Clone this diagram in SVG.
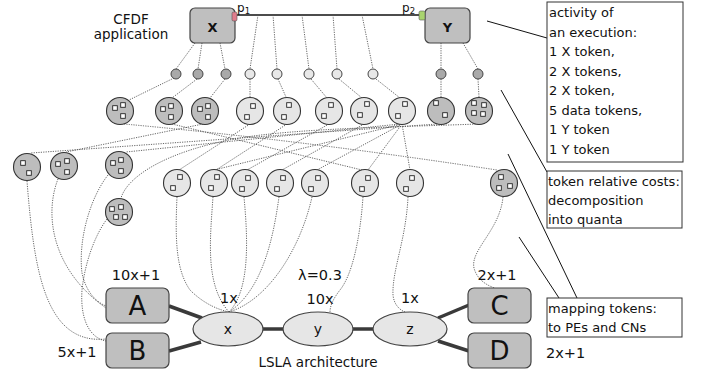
<svg xmlns="http://www.w3.org/2000/svg" width="702" height="372" viewBox="0 0 702 372">
<defs>
<style>
text{font-family:"DejaVu Sans","Liberation Sans",sans-serif;fill:#111}
.node{fill:#bfbfbf;stroke:#444;stroke-width:1.2}
.dk{fill:#bdbdbd;stroke:#333;stroke-width:1.1}
.lt{fill:#e6e6e6;stroke:#333;stroke-width:1.1}
.sdk{fill:#a9a9a9;stroke:#444;stroke-width:1}
.slt{fill:#e8e8e8;stroke:#444;stroke-width:1}
.sq{fill:#fff;stroke:#222;stroke-width:0.9}
.dot{fill:none;stroke:#555;stroke-width:0.9;stroke-dasharray:1.2 1.2}
.thick{stroke:#3a3a3a;stroke-width:3.5}
.call{stroke:#111;stroke-width:1}
.box{fill:#fff;stroke:#333;stroke-width:1}
.t13{font-size:13px}
.lab{font-size:14.5px}
.big{font-size:26px;text-anchor:middle}
.mid{text-anchor:middle}
.ell{fill:#e6e6e6;stroke:#444;stroke-width:1.2}
</style>
<rect id="q" class="sq" x="-2.3" y="-2.3" width="4.6" height="4.6"/>
</defs>
<rect width="702" height="372" fill="#fff"/>

<g id="connectors">
<line x1="237" y1="15" x2="419" y2="15" stroke="#111" stroke-width="1.4"/>
<g class="dot">
<path d="M195,43 L176,69"/><path d="M202,43 L198,69"/><path d="M220,43 L225,69"/>
<path d="M258,15 L250,69"/><path d="M273,15 L277,69"/><path d="M302,15 L309,69"/>
<path d="M333,15 L337,69"/><path d="M362,15 L373,69"/>
<path d="M441,43 L441,69"/><path d="M463,43 L478,69"/>
<path d="M174,78 L129,100"/><path d="M197,79 L172,98"/><path d="M225,79 L210,98"/>
<path d="M250,79 L250,97"/><path d="M278,79 L286,97"/><path d="M311,79 L327,98"/>
<path d="M339,79 L362,98"/><path d="M376,79 L400,98"/><path d="M441,79 L441,97"/>
<path d="M478,79 L479,97"/>
<path d="M124,124 Q300,140 497,170"/>
<path d="M478,124 C400,127 300,128 240,138 C170,150 128,175 121,198"/>
<path d="M203,124 L66,152"/>
<path d="M437,124 L31,153"/>
<path d="M400,124 L126,152"/>
<path d="M172,124 L362,170"/>
<path d="M250,124 L179,170"/>
<path d="M287,124 L216,170"/>
<path d="M329,124 L247,170"/>
<path d="M364,124 L282,170"/>
<path d="M402,124 L317,170"/>
<path d="M402,124 L368,170"/>
<path d="M402,124 L410,170"/>
<path d="M402,124 L214,170"/>
<path d="M27,181 C34,270 45,345 106,339"/>
<path d="M58,179 C44,215 52,270 106,308"/>
<path d="M108,175 C90,198 78,240 82,273 C86,292 96,302 106,306"/>
<path d="M107,219 C95,235 85,262 82,290 C80,320 90,338 106,341"/>
<path d="M177,197 C175,240 176,270 190,290 C205,305 220,310 229,312"/>
<path d="M213,197 C210,240 205,285 229,312"/>
<path d="M244,197 C248,240 250,290 229,312"/>
<path d="M279,197 C273,240 262,290 229,312"/>
<path d="M312,197 C300,250 268,300 229,312"/>
<path d="M363,197 C360,240 352,275 340,290 C333,299 330,306 330,312"/>
<path d="M408,197 C406,240 392,270 393,295 C394,305 400,310 405,312"/>
<path d="M503,197 C500,230 470,250 474,268 C477,280 488,286 495,288"/>
</g>
<g class="thick">
<line x1="169" y1="306" x2="202" y2="318"/>
<line x1="169" y1="351" x2="201" y2="342"/>
<line x1="262" y1="329" x2="284" y2="329"/>
<line x1="352" y1="329" x2="374" y2="329"/>
<line x1="438" y1="318" x2="469" y2="305"/>
<line x1="438" y1="341" x2="469" y2="351"/>
</g>
<g class="call">
<line x1="487" y1="21" x2="547" y2="38"/>
<line x1="501" y1="90" x2="547" y2="172"/>
<line x1="508" y1="154" x2="577" y2="298"/>
<line x1="519" y1="237" x2="559" y2="298"/>
</g>
</g>

<g id="app-label">
<text x="131" y="24" class="mid" font-size="13.5">CFDF</text>
<text x="131" y="39" class="mid" font-size="13.5">application</text>
</g>
<g id="node-X">
<rect class="node" x="190" y="8" width="45" height="35" rx="5"/>
<text x="212.5" y="32" class="mid" font-size="13" font-weight="bold">X</text>
<rect x="232" y="12" width="5" height="9" rx="1.5" fill="#e07d8c" stroke="#555" stroke-width="0.6"/>
<text x="237" y="11.5" font-size="12">p<tspan font-size="8.5" dy="2">1</tspan></text>
</g>
<g id="node-Y">
<rect class="node" x="425" y="8" width="45" height="35" rx="5"/>
<text x="447.5" y="32" class="mid" font-size="13" font-weight="bold">Y</text>
<rect x="419" y="11" width="6" height="9" rx="1.5" fill="#a9d46e" stroke="#555" stroke-width="0.6"/>
<text x="402" y="11.5" font-size="12">p<tspan font-size="8.5" dy="2">2</tspan></text>
</g>

<g id="tokens">
<circle class="sdk" cx="176" cy="74" r="5"/><circle class="sdk" cx="198" cy="74" r="5"/><circle class="sdk" cx="226" cy="74" r="5"/>
<circle class="slt" cx="250" cy="74" r="5"/><circle class="slt" cx="277" cy="74" r="5"/><circle class="slt" cx="309" cy="74" r="5"/>
<circle class="slt" cx="337" cy="74" r="5"/><circle class="slt" cx="373" cy="74" r="5"/>
<circle class="sdk" cx="441" cy="74" r="5"/><circle class="sdk" cx="478" cy="74" r="5"/>
</g>

<g id="quanta">
<circle class="dk" cx="120" cy="111" r="13.5"/><use href="#q" x="115" y="108"/><use href="#q" x="123" y="105"/><use href="#q" x="123" y="116"/>
<circle class="dk" cx="169" cy="111" r="13.5"/><use href="#q" x="163" y="109"/><use href="#q" x="171" y="106"/><use href="#q" x="171" y="117"/>
<circle class="dk" cx="205" cy="111" r="13.5"/><use href="#q" x="200" y="109"/><use href="#q" x="208" y="106"/><use href="#q" x="208" y="117"/>
<circle class="lt" cx="250" cy="111" r="13.5"/><use href="#q" x="253" y="106"/><use href="#q" x="247" y="117"/>
<circle class="lt" cx="287" cy="111" r="13.5"/><use href="#q" x="289" y="105"/><use href="#q" x="284" y="117"/>
<circle class="lt" cx="329" cy="111" r="13.5"/><use href="#q" x="331" y="105"/><use href="#q" x="324" y="116"/>
<circle class="lt" cx="364" cy="111" r="13.5"/><use href="#q" x="367" y="104"/><use href="#q" x="360" y="115"/>
<circle class="lt" cx="402" cy="111" r="13.5"/><use href="#q" x="405" y="104"/><use href="#q" x="398" y="116"/>
<circle class="dk" cx="441" cy="111" r="13.5"/><use href="#q" x="436" y="103"/><use href="#q" x="445" y="115"/>
<circle class="dk" cx="479" cy="111" r="13.5"/><use href="#q" x="474" y="103"/><use href="#q" x="484" y="105"/><use href="#q" x="474" y="113"/><use href="#q" x="483" y="114"/>
</g>

<g id="mapped">
<circle class="dk" cx="27" cy="167" r="13.5"/><use href="#q" x="23" y="163"/><use href="#q" x="29" y="173"/>
<circle class="dk" cx="64" cy="166" r="13.5"/><use href="#q" x="58" y="164"/><use href="#q" x="67" y="161"/><use href="#q" x="67" y="172"/>
<circle class="dk" cx="119" cy="165" r="13.5"/><use href="#q" x="113" y="163"/><use href="#q" x="121" y="160"/><use href="#q" x="121" y="171"/>
<circle class="dk" cx="119" cy="212" r="13.5"/><use href="#q" x="112" y="209"/><use href="#q" x="121" y="207"/><use href="#q" x="116" y="217"/><use href="#q" x="125" y="217"/>
<circle class="lt" cx="177" cy="183" r="13.5"/><use href="#q" x="180" y="177"/><use href="#q" x="173" y="188"/>
<circle class="lt" cx="214" cy="183" r="13.5"/><use href="#q" x="217" y="177"/><use href="#q" x="211" y="188"/>
<circle class="lt" cx="245" cy="183" r="13.5"/><use href="#q" x="248" y="178"/><use href="#q" x="242" y="189"/>
<circle class="lt" cx="280" cy="183" r="13.5"/><use href="#q" x="283" y="178"/><use href="#q" x="277" y="189"/>
<circle class="lt" cx="315" cy="183" r="13.5"/><use href="#q" x="318" y="178"/><use href="#q" x="311" y="189"/>
<circle class="lt" cx="365" cy="183" r="13.5"/><use href="#q" x="368" y="178"/><use href="#q" x="362" y="189"/>
<circle class="lt" cx="410" cy="183" r="13.5"/><use href="#q" x="412" y="178"/><use href="#q" x="406" y="189"/>
<circle class="dk" cx="504" cy="183" r="13.5"/><use href="#q" x="501" y="177"/><use href="#q" x="499" y="188"/><use href="#q" x="510" y="186"/>
</g>

<g id="node-A"><rect class="node" x="106" y="288" width="63" height="35" rx="6"/><text x="137.5" y="315" class="big">A</text></g>
<g id="node-B"><rect class="node" x="106" y="333" width="63" height="35" rx="6"/><text x="137.5" y="360" class="big">B</text></g>
<g id="node-C"><rect class="node" x="468" y="288" width="63" height="35" rx="6"/><text x="499.5" y="315" class="big">C</text></g>
<g id="node-D"><rect class="node" x="468" y="333" width="63" height="35" rx="6"/><text x="499.5" y="360" class="big">D</text></g>
<g id="node-x"><ellipse class="ell" cx="228" cy="329" rx="35" ry="17"/><text x="228" y="334" class="mid" font-size="14">x</text></g>
<g id="node-y"><ellipse class="ell" cx="318" cy="329" rx="35" ry="17"/><text x="318" y="334" class="mid" font-size="14">y</text></g>
<g id="node-z"><ellipse class="ell" cx="410" cy="329" rx="37" ry="17"/><text x="410" y="334" class="mid" font-size="14">z</text></g>

<g id="costs">
<text x="136" y="280" class="lab mid">10x+1</text>
<text x="77" y="357" class="lab mid">5x+1</text>
<text x="229" y="303" class="lab mid">1x</text>
<text x="320" y="280" class="lab mid">λ=0.3</text>
<text x="320" y="304" class="lab mid">10x</text>
<text x="410" y="303" class="lab mid">1x</text>
<text x="497" y="280" class="lab mid">2x+1</text>
<text x="546" y="358" class="lab">2x+1</text>
<text x="318" y="367" class="mid" font-size="13.5">LSLA architecture</text>
</g>

<g id="box-activity">
<rect class="box" x="547" y="2" width="136" height="160"/>
<g class="t13">
<text x="549" y="17">activity of</text>
<text x="549" y="36.5">an execution:</text>
<text x="549" y="56">1 X token,</text>
<text x="549" y="75.5">2 X tokens,</text>
<text x="549" y="95">2 X token,</text>
<text x="549" y="114.5">5 data tokens,</text>
<text x="549" y="134">1 Y token</text>
<text x="549" y="153.5">1 Y token</text>
</g>
</g>
<g id="box-costs">
<rect class="box" x="547" y="171" width="135" height="57"/>
<g class="t13">
<text x="548" y="186">token relative costs:</text>
<text x="548" y="205">decomposition</text>
<text x="548" y="223.5">into quanta</text>
</g>
</g>
<g id="box-mapping">
<rect class="box" x="547" y="298" width="135" height="39"/>
<g class="t13">
<text x="548" y="313">mapping tokens:</text>
<text x="548" y="332">to PEs and CNs</text>
</g>
</g>
</svg>
